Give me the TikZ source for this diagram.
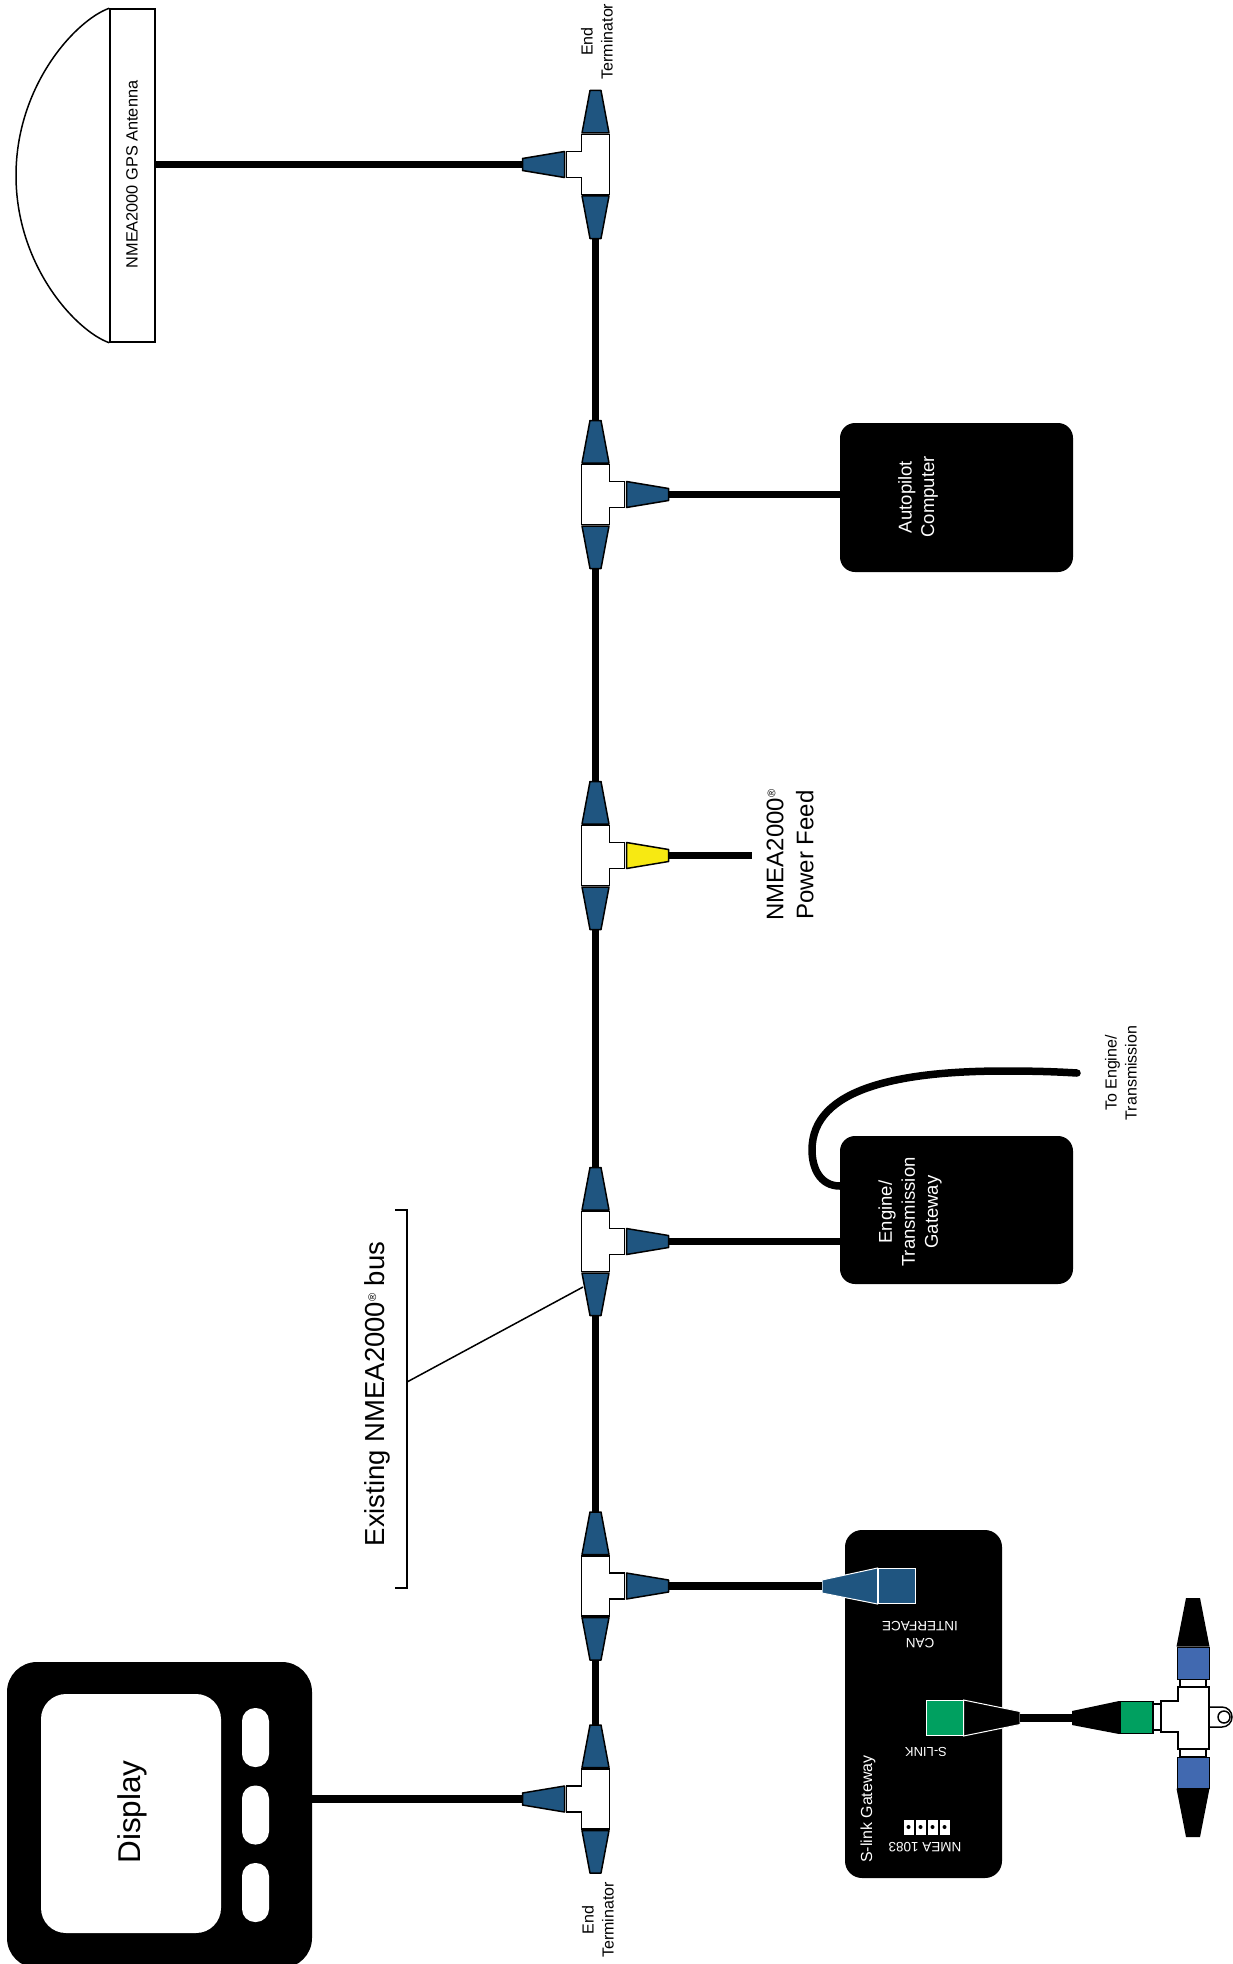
\documentclass[tikz,border=0pt]{standalone}
\usepackage{fontspec}
\setmainfont{Liberation Sans}
\usepackage{tikz}

\definecolor{conblue}{HTML}{1F5580}
\definecolor{conyellow}{HTML}{F7E912}
\definecolor{congreen}{HTML}{00A060}
\definecolor{dropblue}{HTML}{4169B0}
\newcommand{\regmark}{\raisebox{8pt}{\fontsize{11}{11}\selectfont ®}}

\tikzset{
  pics/tee/.style={code={
    \draw[teebody] (-14,-30) -- (14,-30) -- (14,-13) -- (29,-13) -- (29,13) -- (14,13) -- (14,30) -- (-14,30) -- cycle;
    \draw[plug, fill=conblue] (-13.5,-31.5) -- (-5.5,-74) -- (5.5,-74) -- (13.5,-31.5) -- cycle;
    \draw[plug, fill=conblue] (-13.5,31.5) -- (-5.5,74) -- (5.5,74) -- (13.5,31.5) -- cycle;
    \draw[plug, fill=#1] (31,-13) -- (73,-6) -- (73,6) -- (31,13) -- cycle;
    \coordinate (-top) at (0,-74);
    \coordinate (-bottom) at (0,74);
    \coordinate (-tip) at (73,0);
  }},
  pics/tee/.default=conblue
}

\begin{document}
\begin{tikzpicture}[x=1pt, y=-1pt,
  teebody/.style={draw=black, fill=white, line width=1.5pt, line join=miter},
  plug/.style={draw=black, line width=1.5pt, line join=round},
  whiteplug/.style={draw=white, line width=1pt},
  cable/.style={draw=black, line width=7.5pt},
  blackbox/.style={rectangle, fill=black, rounded corners=15pt, inner sep=0pt},
  whitekey/.style={rectangle, fill=white, draw=black, line width=0.4pt, inner sep=0pt},
  lbl/.style={rotate=90, align=center, inner sep=0pt},
  whitelbl/.style={lbl, text=white}]
  \useasboundingbox (0,0) rectangle (1233,1964);

  % T pieces on the bus
  \pic[xscale=-1] (t1) at (595.5,164.5) {tee};
  \pic (t2) at (595.5,494.5) {tee};
  \pic (t3) at (595.5,855.5) {tee=conyellow};
  \pic (t4) at (595.5,1241.5) {tee};
  \pic (t5) at (595.5,1586) {tee};
  \pic[xscale=-1] (t6) at (595.5,1799) {tee};
  \foreach \a/\b in {t1/t2, t2/t3, t3/t4, t4/t5, t5/t6}
    \draw[cable] (\a-bottom) -- (\b-top);

  % End terminators
  \node[lbl, font=\fontsize{16}{20}\selectfont] (endtop) at (597,41.5) {End\\Terminator};
  \node[lbl, font=\fontsize{16}{20}\selectfont] (endbottom) at (598,1920) {End\\Terminator};

  % GPS antenna
  \node[rectangle, draw=black, fill=white, line width=1.5pt, inner sep=0pt,
        minimum width=45pt, minimum height=333pt] (antenna) at (132.5,175.5) {};
  \node[lbl, font=\fontsize{16.3}{20}\selectfont] (antennalabel) at (132,174.5) {NMEA2000 GPS Antenna};
  \draw[line width=1.5pt] (antenna.north west) .. controls (76,20) and (16,85) .. (16,175.5)
    .. controls (16,266) and (76,331) .. (antenna.south west);
  \draw[cable] (t1-tip) -- (antenna.east |- t1-tip);

  % Autopilot
  \node[blackbox, minimum width=233pt, minimum height=149pt] (autopilot) at (956.5,497.5) {};
  \node[whitelbl, font=\fontsize{18.5}{22.5}\selectfont] (autopilotlabel) at (918,497) {Autopilot\\Computer};
  \draw[cable] (t2-tip) -- (autopilot.west |- t2-tip);

  % Power feed
  \coordinate (feedend) at (752,855.5);
  \draw[cable] (t3-tip) -- (feedend);
  \node[lbl, font=\fontsize{24}{30}\selectfont] (feedlabel) at (790,855) {NMEA2000\regmark\\Power Feed};

  % Engine gateway
  \node[blackbox, minimum width=233pt, minimum height=148pt] (engine) at (956.5,1210) {};
  \node[whitelbl, font=\fontsize{18.5}{23}\selectfont] (enginelabel) at (910,1212) {Engine/\\Transmission\\Gateway};
  \draw[cable] (t4-tip) -- (engine.west |- t4-tip);
  \coordinate (engineout) at (840,1186);
  \coordinate (engineend) at (1077,1073);
  \draw[cable, line cap=round] (engineout) .. controls (820,1186) and (812,1168) .. (812,1150)
    .. controls (812,1088) and (900,1071) .. (1005,1071)
    .. controls (1040,1071) and (1060,1072) .. (engineend);
  \node[lbl, font=\fontsize{16}{20}\selectfont] (enginecable) at (1121,1073) {To Engine/\\Transmission};

  % Bus bracket
  \coordinate (busmid) at (407,1382);
  \coordinate (busplug) at (583,1287);
  \draw[line width=1.5pt] (395,1210) -- (407,1210) -- (407,1588) -- (395,1588);
  \draw[line width=1.5pt] (busmid) -- (busplug);
  \node[lbl, font=\fontsize{27.5}{30}\selectfont] (buslabel) at (377,1394) {Existing NMEA2000\regmark{} bus};

  % S-link gateway
  \node[blackbox, rounded corners=17pt, minimum width=157pt, minimum height=348pt] (gateway) at (923.5,1704) {};
  \node[whitelbl, font=\fontsize{16}{20}\selectfont] (gatewaylabel) at (868,1809) {S-link Gateway};
  \node[lbl, rotate=90, text=white, align=center, font=\fontsize{13.5}{17}\selectfont] (canlabel) at (920,1634.5) {CAN\\INTERFACE};
  \node[lbl, rotate=90, text=white, font=\fontsize{13}{16}\selectfont] (slinklabel) at (926,1752) {S-LINK};
  \node[lbl, rotate=90, text=white, font=\fontsize{13.5}{16}\selectfont] (nmealabel) at (925,1847) {NMEA 1083};
  \foreach \p/\x in {p1/908.5, p2/920.5, p3/932.5, p4/944.5} {
    \node[whitekey, minimum width=11pt, minimum height=16pt] (\p) at (\x,1827) {};
    \fill[black] (\p) circle (2pt);
  }
  % CAN port
  \node[rectangle, draw=white, fill=conblue, line width=1pt, inner sep=0pt,
        minimum width=37pt, minimum height=35pt] (canport) at (896.5,1586) {};
  \draw[whiteplug, fill=conblue] (canport.north west) -- (822,1580) -- (822,1593) -- (canport.south west) -- cycle;
  \coordinate (canplug) at (822,1586);
  \draw[cable] (t5-tip) -- (canplug);
  % S-link port
  \node[rectangle, draw=white, fill=congreen, line width=1pt, inner sep=0pt,
        minimum width=37pt, minimum height=35pt] (slinkport) at (944.5,1718) {};
  \draw[whiteplug, fill=black] (slinkport.north east) -- (1020,1711.5) -- (1020,1724.5) -- (slinkport.south east) -- cycle;
  \coordinate (slinktip) at (1020,1718);

  % S-link drop
  \coordinate (droptip) at (1072,1718);
  \draw[cable] (slinktip) -- (droptip);
  \fill[black] (droptip |- 0,1711) -- (1119,1701) -- (1119,1734) -- (droptip |- 0,1725) -- cycle;
  \node[rectangle, draw=black, fill=congreen, line width=1.5pt, inner sep=0pt,
        minimum width=33pt, minimum height=32pt] (dropgreen) at (1136.5,1717.5) {};
  \draw[teebody] (1153,1704) rectangle (1161,1730);
  \draw[teebody] (1180,1679) rectangle (1206,1687);
  \draw[teebody] (1180,1749) rectangle (1206,1757);
  \draw[teebody] (1209,1707) -- (1222,1707) arc (-90:90:10) -- (1209,1727) -- cycle;
  \draw[teebody] (1161,1701) -- (1178,1701) -- (1178,1687) -- (1209,1687) -- (1209,1749) -- (1178,1749) -- (1178,1732) -- (1161,1732) -- cycle;
  \draw[line width=1.5pt, fill=white] (1224,1717) circle (6);
  \node[rectangle, draw=black, fill=dropblue, line width=1pt, inner sep=0pt,
        minimum width=32pt, minimum height=32pt] (dropupper) at (1193,1663) {};
  \node[rectangle, draw=black, fill=dropblue, line width=1pt, inner sep=0pt,
        minimum width=32pt, minimum height=31pt] (droplower) at (1193,1772.5) {};
  \fill[black] (dropupper.north west) -- (1186,1598) -- (1200,1598) -- (dropupper.north east) -- cycle;
  \fill[black] (droplower.south west) -- (1186,1837) -- (1200,1837) -- (droplower.south east) -- cycle;

  % Display
  \node[blackbox, rounded corners=30pt, minimum width=305pt, minimum height=306pt] (display) at (159.5,1815) {};
  \node[rectangle, fill=white, rounded corners=25pt, inner sep=0pt,
        minimum width=180pt, minimum height=239pt] (screen) at (131,1813.5) {};
  \node[lbl, font=\fontsize{31.5}{36}\selectfont] (screenlabel) at (132,1812) {Display};
  \foreach \b/\y in {b1/1737.5, b2/1815, b3/1892.5}
    \node[rectangle, fill=white, rounded corners=13pt, inner sep=0pt,
          minimum width=27pt, minimum height=59pt] (\b) at (255.5,\y) {};
  \draw[cable] (t6-tip) -- (display.east |- t6-tip);
\end{tikzpicture}
\end{document}
